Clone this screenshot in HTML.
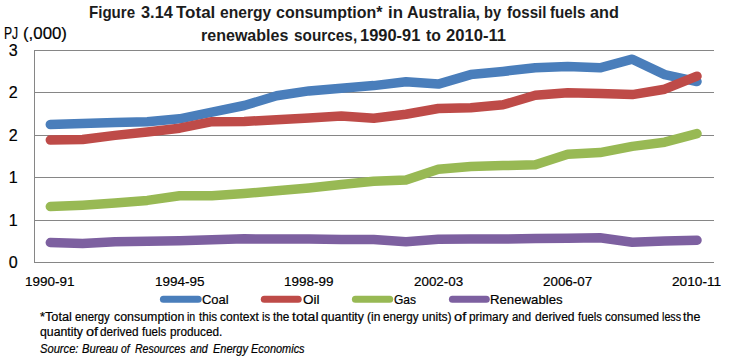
<!DOCTYPE html>
<html><head><meta charset="utf-8"><style>
html,body{margin:0;padding:0;background:#fff;}
body{width:731px;height:361px;position:relative;overflow:hidden;font-family:"Liberation Sans",sans-serif;color:#000;}
.t{position:absolute;white-space:nowrap;line-height:1;transform-origin:0 0;}
svg{position:absolute;left:0;top:0;}
</style></head><body>
<svg width="731" height="361" viewBox="0 0 731 361">
<line x1="34.0" y1="50.50" x2="714.0" y2="50.50" stroke="#868686" stroke-width="1.00"/>
<line x1="34.0" y1="92.50" x2="714.0" y2="92.50" stroke="#868686" stroke-width="1.00"/>
<line x1="34.0" y1="135.50" x2="714.0" y2="135.50" stroke="#868686" stroke-width="1.00"/>
<line x1="34.0" y1="177.50" x2="714.0" y2="177.50" stroke="#868686" stroke-width="1.00"/>
<line x1="34.0" y1="220.50" x2="714.0" y2="220.50" stroke="#868686" stroke-width="1.00"/>
<line x1="34.50" y1="50.50" x2="34.50" y2="262.50" stroke="#868686" stroke-width="1.00"/>
<line x1="34.0" y1="262.50" x2="714.0" y2="262.50" stroke="#868686" stroke-width="1.00"/>
<polyline points="50.3,124.6 82.6,123.5 115.0,122.6 147.3,121.8 179.6,118.8 212.0,112.1 244.3,105.5 276.6,95.8 309.0,90.9 341.3,88.3 373.7,85.6 406.0,81.8 438.3,84.1 470.7,74.6 503.0,71.4 535.3,67.8 567.7,66.4 600.0,67.8 632.3,59.2 664.7,74.6 697.0,81.6" fill="none" stroke="#4A7EBB" stroke-width="9.50" stroke-linecap="round" stroke-linejoin="round"/>
<polyline points="50.3,140.0 82.6,139.5 115.0,135.4 147.3,132.0 179.6,128.2 212.0,121.7 244.3,121.5 276.6,119.7 309.0,117.9 341.3,116.0 373.7,118.2 406.0,114.3 438.3,108.5 470.7,107.7 503.0,104.8 535.3,95.3 567.7,92.8 600.0,93.5 632.3,94.6 664.7,89.2 697.0,76.2" fill="none" stroke="#BE4B48" stroke-width="9.50" stroke-linecap="round" stroke-linejoin="round"/>
<polyline points="50.3,206.6 82.6,205.2 115.0,203.1 147.3,200.4 179.6,195.7 212.0,195.7 244.3,193.5 276.6,190.7 309.0,187.9 341.3,184.5 373.7,181.3 406.0,180.0 438.3,169.3 470.7,166.6 503.0,165.6 535.3,164.8 567.7,154.3 600.0,152.6 632.3,146.4 664.7,142.2 697.0,133.6" fill="none" stroke="#98B954" stroke-width="9.50" stroke-linecap="round" stroke-linejoin="round"/>
<polyline points="50.3,242.6 82.6,243.6 115.0,241.7 147.3,241.2 179.6,240.8 212.0,239.7 244.3,238.8 276.6,239.1 309.0,239.1 341.3,239.4 373.7,239.5 406.0,241.7 438.3,239.3 470.7,239.0 503.0,239.0 535.3,238.5 567.7,238.2 600.0,237.7 632.3,242.2 664.7,241.0 697.0,240.2" fill="none" stroke="#7D60A0" stroke-width="9.50" stroke-linecap="round" stroke-linejoin="round"/>
<line x1="163.4" y1="299.30" x2="198.2" y2="299.30" stroke="#4A7EBB" stroke-width="7.00" stroke-linecap="round"/>
<line x1="264.3" y1="299.30" x2="298.2" y2="299.30" stroke="#BE4B48" stroke-width="7.00" stroke-linecap="round"/>
<line x1="355.4" y1="299.30" x2="389.7" y2="299.30" stroke="#98B954" stroke-width="7.00" stroke-linecap="round"/>
<line x1="452.4" y1="299.30" x2="486.3" y2="299.30" stroke="#7D60A0" stroke-width="7.00" stroke-linecap="round"/>
</svg>
<div class="t" style="left:89.10px;top:5.04px;font-size:16.72px;font-weight:bold;color:#1c1c1c;transform:scaleX(0.9030);">Figure</div>
<div class="t" style="left:140.51px;top:5.04px;font-size:16.72px;font-weight:bold;color:#1c1c1c;transform:scaleX(0.9781);">3.14</div>
<div class="t" style="left:175.75px;top:5.04px;font-size:16.72px;font-weight:bold;color:#1c1c1c;transform:scaleX(1.0174);">Total</div>
<div class="t" style="left:219.80px;top:5.04px;font-size:16.72px;font-weight:bold;color:#1c1c1c;transform:scaleX(0.9352);">energy</div>
<div class="t" style="left:275.88px;top:5.04px;font-size:16.72px;font-weight:bold;color:#1c1c1c;transform:scaleX(0.9566);">consumption*</div>
<div class="t" style="left:388.44px;top:5.04px;font-size:16.72px;font-weight:bold;color:#1c1c1c;transform:scaleX(1.0080);">in</div>
<div class="t" style="left:406.52px;top:5.04px;font-size:16.72px;font-weight:bold;color:#1c1c1c;transform:scaleX(0.9597);">Australia,</div>
<div class="t" style="left:484.32px;top:5.04px;font-size:16.72px;font-weight:bold;color:#1c1c1c;transform:scaleX(0.8822);">by</div>
<div class="t" style="left:506.57px;top:5.04px;font-size:16.72px;font-weight:bold;color:#1c1c1c;transform:scaleX(0.9041);">fossil</div>
<div class="t" style="left:550.27px;top:5.04px;font-size:16.72px;font-weight:bold;color:#1c1c1c;transform:scaleX(0.9079);">fuels</div>
<div class="t" style="left:590.21px;top:5.04px;font-size:16.72px;font-weight:bold;color:#1c1c1c;transform:scaleX(0.9735);">and</div>
<div class="t" style="left:201.34px;top:27.74px;font-size:16.72px;font-weight:bold;color:#1c1c1c;transform:scaleX(0.9602);">renewables</div>
<div class="t" style="left:293.64px;top:27.74px;font-size:16.72px;font-weight:bold;color:#1c1c1c;transform:scaleX(0.9194);">sources,</div>
<div class="t" style="left:359.92px;top:27.74px;font-size:16.72px;font-weight:bold;color:#1c1c1c;transform:scaleX(0.9841);">1990-91</div>
<div class="t" style="left:426.16px;top:27.74px;font-size:16.72px;font-weight:bold;color:#1c1c1c;transform:scaleX(0.9467);">to</div>
<div class="t" style="left:446.20px;top:27.74px;font-size:16.72px;font-weight:bold;color:#1c1c1c;transform:scaleX(0.9950);">2010-11</div>
<div class="t" style="left:4.41px;top:25.04px;font-size:16.13px;-webkit-text-stroke:0.20px #000;transform:scaleX(0.7545);">PJ</div>
<div class="t" style="left:23.16px;top:25.04px;font-size:16.13px;-webkit-text-stroke:0.20px #000;transform:scaleX(1.0450);">(,000)</div>
<div class="t" style="left:40.44px;top:310.76px;font-size:12.21px;-webkit-text-stroke:0.20px #000;transform:scaleX(1.0441);">*Total</div>
<div class="t" style="left:75.13px;top:310.76px;font-size:12.21px;-webkit-text-stroke:0.20px #000;transform:scaleX(0.9306);">energy</div>
<div class="t" style="left:114.29px;top:310.76px;font-size:12.21px;-webkit-text-stroke:0.20px #000;transform:scaleX(1.0162);">consumption</div>
<div class="t" style="left:187.35px;top:310.76px;font-size:12.21px;-webkit-text-stroke:0.20px #000;transform:scaleX(0.8625);">in</div>
<div class="t" style="left:198.56px;top:310.76px;font-size:12.21px;-webkit-text-stroke:0.20px #000;transform:scaleX(0.9534);">this</div>
<div class="t" style="left:219.81px;top:310.76px;font-size:12.21px;-webkit-text-stroke:0.20px #000;transform:scaleX(0.9884);">context</div>
<div class="t" style="left:262.01px;top:310.76px;font-size:12.21px;-webkit-text-stroke:0.20px #000;transform:scaleX(0.9200);">is</div>
<div class="t" style="left:273.46px;top:310.76px;font-size:12.21px;-webkit-text-stroke:0.20px #000;transform:scaleX(0.9662);">the</div>
<div class="t" style="left:291.51px;top:310.76px;font-size:12.21px;-webkit-text-stroke:0.20px #000;transform:scaleX(1.1500);">total</div>
<div class="t" style="left:320.80px;top:310.76px;font-size:12.21px;-webkit-text-stroke:0.20px #000;transform:scaleX(1.0036);">quantity</div>
<div class="t" style="left:367.06px;top:310.76px;font-size:12.21px;-webkit-text-stroke:0.20px #000;transform:scaleX(0.9833);">(in</div>
<div class="t" style="left:383.43px;top:310.76px;font-size:12.21px;-webkit-text-stroke:0.20px #000;transform:scaleX(0.9497);">energy</div>
<div class="t" style="left:422.16px;top:310.76px;font-size:12.21px;-webkit-text-stroke:0.20px #000;transform:scaleX(0.9912);">units)</div>
<div class="t" style="left:454.40px;top:310.76px;font-size:12.21px;-webkit-text-stroke:0.20px #000;transform:scaleX(1.2000);">of</div>
<div class="t" style="left:469.47px;top:310.76px;font-size:12.21px;-webkit-text-stroke:0.20px #000;transform:scaleX(0.9711);">primary</div>
<div class="t" style="left:512.43px;top:310.76px;font-size:12.21px;-webkit-text-stroke:0.20px #000;transform:scaleX(0.9368);">and</div>
<div class="t" style="left:534.71px;top:310.76px;font-size:12.21px;-webkit-text-stroke:0.20px #000;transform:scaleX(0.9884);">derived</div>
<div class="t" style="left:577.67px;top:310.76px;font-size:12.21px;-webkit-text-stroke:0.20px #000;transform:scaleX(0.9280);">fuels</div>
<div class="t" style="left:605.02px;top:310.76px;font-size:12.21px;-webkit-text-stroke:0.20px #000;transform:scaleX(0.9582);">consumed</div>
<div class="t" style="left:661.84px;top:310.76px;font-size:12.21px;-webkit-text-stroke:0.20px #000;transform:scaleX(0.8780);">less</div>
<div class="t" style="left:683.04px;top:310.76px;font-size:12.21px;-webkit-text-stroke:0.20px #000;transform:scaleX(1.0215);">the</div>
<div class="t" style="left:39.50px;top:326.36px;font-size:12.21px;-webkit-text-stroke:0.20px #000;transform:scaleX(1.0059);">quantity</div>
<div class="t" style="left:86.01px;top:326.36px;font-size:12.21px;-webkit-text-stroke:0.20px #000;transform:scaleX(1.1897);">of</div>
<div class="t" style="left:100.32px;top:326.36px;font-size:12.21px;-webkit-text-stroke:0.20px #000;transform:scaleX(0.9600);">derived</div>
<div class="t" style="left:142.26px;top:326.36px;font-size:12.21px;-webkit-text-stroke:0.20px #000;transform:scaleX(0.9400);">fuels</div>
<div class="t" style="left:170.08px;top:326.36px;font-size:12.21px;-webkit-text-stroke:0.20px #000;transform:scaleX(0.9638);">produced.</div>
<div class="t" style="left:39.77px;top:342.56px;font-size:12.21px;-webkit-text-stroke:0.20px #000;font-style:italic;transform:scaleX(0.9139);">Source:</div>
<div class="t" style="left:81.57px;top:342.56px;font-size:12.21px;-webkit-text-stroke:0.20px #000;font-style:italic;transform:scaleX(0.9161);">Bureau</div>
<div class="t" style="left:120.98px;top:342.56px;font-size:12.21px;-webkit-text-stroke:0.20px #000;font-style:italic;transform:scaleX(0.8465);">of</div>
<div class="t" style="left:135.08px;top:342.56px;font-size:12.21px;-webkit-text-stroke:0.20px #000;font-style:italic;transform:scaleX(0.8641);">Resources</div>
<div class="t" style="left:189.78px;top:342.56px;font-size:12.21px;-webkit-text-stroke:0.20px #000;font-style:italic;transform:scaleX(0.8683);">and</div>
<div class="t" style="left:212.67px;top:342.56px;font-size:12.21px;-webkit-text-stroke:0.20px #000;font-style:italic;transform:scaleX(0.9026);">Energy</div>
<div class="t" style="left:251.48px;top:342.56px;font-size:12.21px;-webkit-text-stroke:0.20px #000;font-style:italic;transform:scaleX(0.8979);">Economics</div>
<div class="t" style="left:201.94px;top:293.77px;font-size:12.79px;-webkit-text-stroke:0.20px #000;transform:scaleX(1.0141);">Coal</div>
<div class="t" style="left:302.67px;top:293.77px;font-size:12.79px;-webkit-text-stroke:0.20px #000;transform:scaleX(1.0596);">Oil</div>
<div class="t" style="left:393.73px;top:293.77px;font-size:12.79px;-webkit-text-stroke:0.20px #000;transform:scaleX(0.9422);">Gas</div>
<div class="t" style="left:490.17px;top:293.77px;font-size:12.79px;-webkit-text-stroke:0.20px #000;transform:scaleX(1.0319);">Renewables</div>
<div class="t" style="left:25.41px;top:274.62px;font-size:13.68px;-webkit-text-stroke:0.20px #000;transform:scaleX(0.9856);">1990-91</div>
<div class="t" style="left:154.75px;top:274.62px;font-size:13.68px;-webkit-text-stroke:0.20px #000;transform:scaleX(0.9856);">1994-95</div>
<div class="t" style="left:284.09px;top:274.62px;font-size:13.68px;-webkit-text-stroke:0.20px #000;transform:scaleX(0.9856);">1998-99</div>
<div class="t" style="left:413.68px;top:274.62px;font-size:13.68px;-webkit-text-stroke:0.20px #000;transform:scaleX(0.9805);">2002-03</div>
<div class="t" style="left:543.02px;top:274.62px;font-size:13.68px;-webkit-text-stroke:0.20px #000;transform:scaleX(0.9805);">2006-07</div>
<div class="t" style="left:672.35px;top:274.62px;font-size:13.68px;-webkit-text-stroke:0.20px #000;transform:scaleX(1.0010);">2010-11</div>
<div class="t" style="left:8.75px;top:41.79px;font-size:16.08px;-webkit-text-stroke:0.20px #000;">3</div>
<div class="t" style="left:8.75px;top:83.79px;font-size:16.08px;-webkit-text-stroke:0.20px #000;">2</div>
<div class="t" style="left:8.75px;top:126.79px;font-size:16.08px;-webkit-text-stroke:0.20px #000;">2</div>
<div class="t" style="left:8.75px;top:168.79px;font-size:16.08px;-webkit-text-stroke:0.20px #000;">1</div>
<div class="t" style="left:8.75px;top:211.79px;font-size:16.08px;-webkit-text-stroke:0.20px #000;">1</div>
<div class="t" style="left:8.75px;top:253.79px;font-size:16.08px;-webkit-text-stroke:0.20px #000;">0</div>
</body></html>
